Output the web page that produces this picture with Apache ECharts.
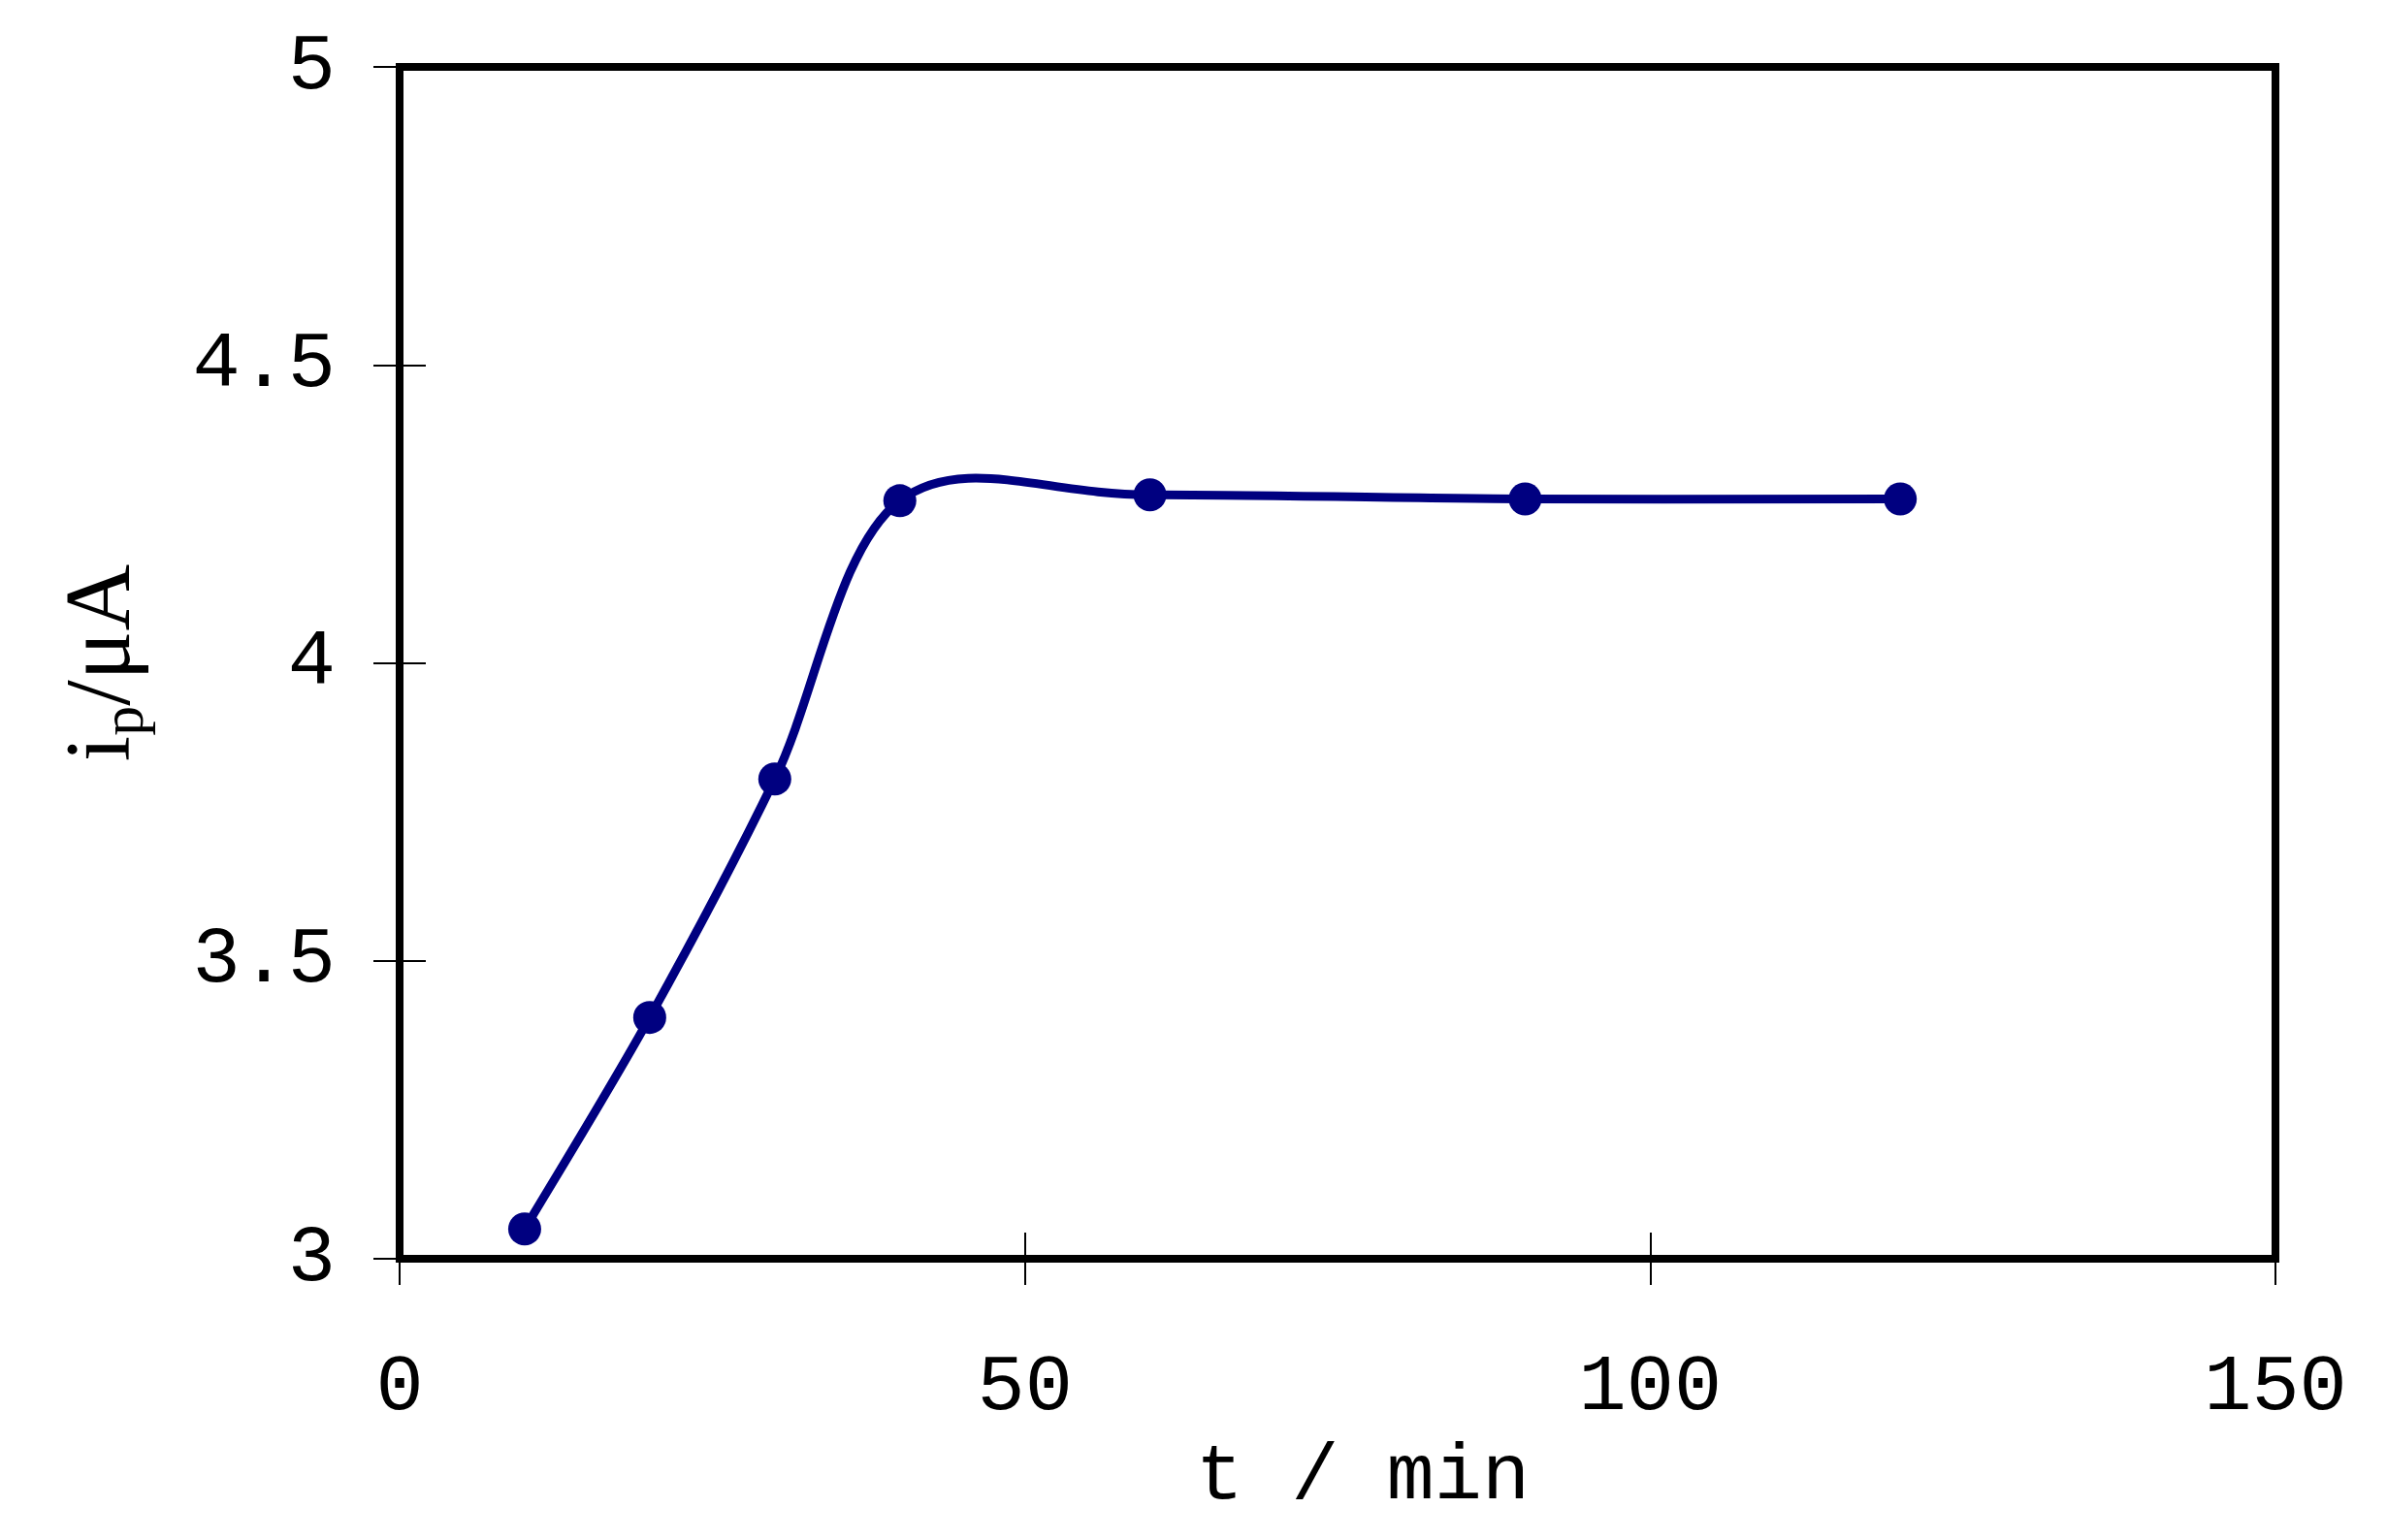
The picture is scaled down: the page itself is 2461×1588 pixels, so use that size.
<!DOCTYPE html>
<html>
<head>
<meta charset="utf-8">
<script src="https://cdn.jsdelivr.net/npm/echarts@6/dist/echarts.min.js"></script>
<style>
html,body{margin:0;padding:0;background:#fff;}
#chart{width:2461px;height:1588px;}
</style>
</head>
<body>
<div id="chart"></div>
<script>
// data
var timeMin = [10, 20, 30, 40, 60, 90, 120];
var peakCurrent = [3.05, 3.405, 3.805, 4.272, 4.282, 4.275, 4.275];
var xTicks = {min: 0, max: 150, interval: 50};
var yTicks = {min: 3, max: 5, interval: 0.5};
var xTitle = 't / min';

var seriesData = timeMin.map(function (t, i) { return [t, peakCurrent[i]]; });

var monoFont = '"Liberation Mono", "Courier New", monospace';
var serifFont = '"Liberation Serif", "Times New Roman", serif';
var navy = '#000080';

var chart = echarts.init(document.getElementById('chart'), null, {renderer: 'canvas'});

var baseX = {
  type: 'value', min: xTicks.min, max: xTicks.max, interval: xTicks.interval,
  splitLine: {show: false}
};
var baseY = {
  type: 'value', min: yTicks.min, max: yTicks.max, interval: yTicks.interval,
  splitLine: {show: false}
};

// Smoothed (Catmull-Rom style) segment between point i and i+1, in pixel space from the axes
function renderSegment(params, api) {
  var i = params.dataIndex;
  var n = timeMin.length;
  if (i >= n - 1) return null;
  function pt(k) {
    k = Math.max(0, Math.min(n - 1, k));
    return api.coord([timeMin[k], peakCurrent[k]]);
  }
  var p0 = pt(i - 1), p1 = pt(i), p2 = pt(i + 1), p3 = pt(i + 2);
  var f = 1 / 6;
  return {
    type: 'bezierCurve',
    shape: {
      x1: p1[0], y1: p1[1], x2: p2[0], y2: p2[1],
      cpx1: p1[0] + (p2[0] - p0[0]) * f, cpy1: p1[1] + (p2[1] - p0[1]) * f,
      cpx2: p2[0] - (p3[0] - p1[0]) * f, cpy2: p2[1] - (p3[1] - p1[1]) * f
    },
    style: {stroke: navy, lineWidth: 9, fill: null, lineCap: 'round'}
  };
}

chart.setOption({
  backgroundColor: '#fff',
  animation: false,
  grid: {
    left: 412, right: 115, top: 69, bottom: 290,
    show: true, borderColor: '#000', borderWidth: 8, backgroundColor: 'transparent'
  },
  xAxis: [
    Object.assign({}, baseX, {
      position: 'bottom',
      axisLine: {show: true, lineStyle: {color: '#000', width: 8}},
      axisTick: {show: true, inside: false, length: 27, lineStyle: {color: '#000', width: 2}},
      axisLabel: {show: true, margin: 92, color: '#000', fontFamily: monoFont, fontSize: 82},
      name: xTitle, nameLocation: 'middle', nameGap: 184,
      nameTextStyle: {color: '#000', fontFamily: monoFont, fontSize: 82, padding: [0, 0, 0, 52]}
    }),
    Object.assign({}, baseX, {
      position: 'bottom',
      axisLine: {show: false},
      axisTick: {show: true, inside: true, length: 27, lineStyle: {color: '#000', width: 2}},
      axisLabel: {show: false}
    })
  ],
  yAxis: [
    Object.assign({}, baseY, {
      position: 'left',
      axisLine: {show: true, lineStyle: {color: '#000', width: 8}},
      axisTick: {show: true, inside: false, length: 27, lineStyle: {color: '#000', width: 2}},
      axisLabel: {show: true, margin: 66, color: '#000', fontFamily: monoFont, fontSize: 82},
      name: '{m|i}{s|p}{m|/μA}', nameLocation: 'middle', nameGap: 250, nameRotate: 90,
      nameTextStyle: {
        color: '#000',
        rich: {
          m: {fontFamily: serifFont, fontSize: 95, lineHeight: 108, color: '#000'},
          s: {fontFamily: serifFont, fontSize: 62, lineHeight: 62, verticalAlign: 'bottom', color: '#000'}
        }
      }
    }),
    Object.assign({}, baseY, {
      position: 'left',
      axisLine: {show: false},
      axisTick: {show: true, inside: true, length: 27, lineStyle: {color: '#000', width: 2}},
      axisLabel: {show: false}
    })
  ],
  series: [{
    type: 'custom',
    xAxisIndex: 0, yAxisIndex: 0,
    data: seriesData,
    renderItem: renderSegment,
    clip: false,
    z: 4
  }, {
    type: 'scatter',
    xAxisIndex: 0, yAxisIndex: 0,
    data: seriesData,
    symbol: 'circle', symbolSize: 34,
    itemStyle: {color: navy, opacity: 1},
    z: 5
  }]
});
</script>
</body>
</html>
